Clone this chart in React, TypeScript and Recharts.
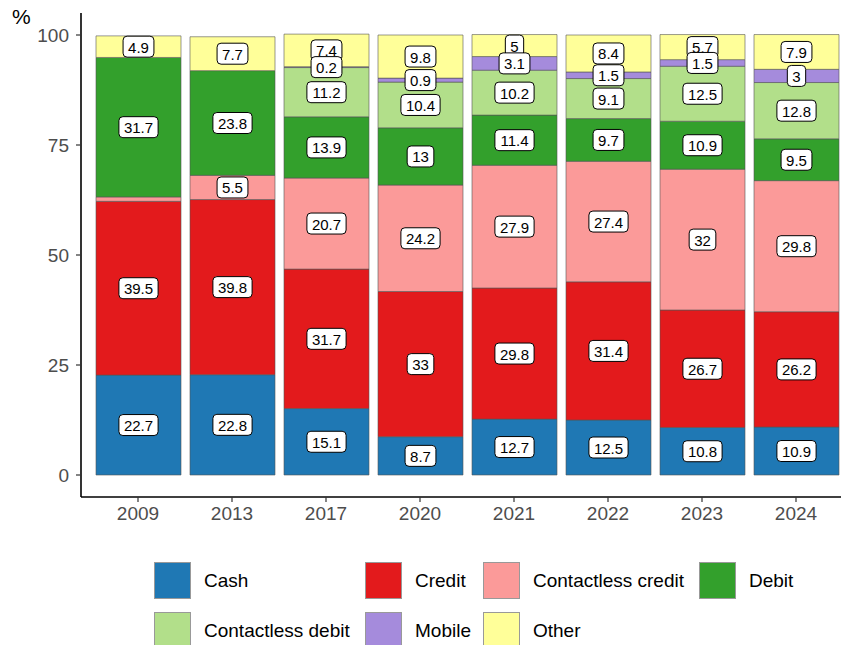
import { BarChart, Bar, XAxis, YAxis, LabelList } from "recharts";

const years = ["2009", "2013", "2017", "2020", "2021", "2022", "2023", "2024"];
const cash = [22.7, 22.8, 15.1, 8.7, 12.7, 12.5, 10.8, 10.9];
const credit = [39.5, 39.8, 31.7, 33, 29.8, 31.4, 26.7, 26.2];
const contactlessCredit = [1.0, 5.5, 20.7, 24.2, 27.9, 27.4, 32, 29.8];
const debit = [31.7, 23.8, 13.9, 13, 11.4, 9.7, 10.9, 9.5];
const contactlessDebit = [null, null, 11.2, 10.4, 10.2, 9.1, 12.5, 12.8];
const mobile = [null, null, 0.2, 0.9, 3.1, 1.5, 1.5, 3];
const other = [4.9, 7.7, 7.4, 9.8, 5, 8.4, 5.7, 7.9];
const yTicks = [0, 25, 50, 75, 100];

// the 2009 contactless credit sliver has no label in the original
const unlabelled = [{ year: "2009", key: "contactlessCredit" }];

const series = [
  { key: "cash", name: "Cash", values: cash, color: "#1F78B4" },
  { key: "credit", name: "Credit", values: credit, color: "#E31A1C" },
  { key: "contactlessCredit", name: "Contactless credit", values: contactlessCredit, color: "#FB9A99" },
  { key: "debit", name: "Debit", values: debit, color: "#33A02C" },
  { key: "contactlessDebit", name: "Contactless debit", values: contactlessDebit, color: "#B2DF8A" },
  { key: "mobile", name: "Mobile", values: mobile, color: "#A58BDC" },
  { key: "other", name: "Other", values: other, color: "#FFFF99" },
];

const data = years.map((year, i) => {
  const row: Record<string, any> = { year };
  series.forEach((s) => (row[s.key] = s.values[i]));
  return row;
});

const FONT = "'Liberation Sans', Arial, sans-serif";
const W = 853;
const H = 545;

const textWidth = (t: string, size: number) =>
  t.split("").reduce((acc, ch) => acc + (ch === "." ? 0.278 : 0.556), 0) * size;

const renderLabel = (props: any, key: string) => {
  const { x, y, width, height, value, index } = props;
  if (value == null || value === 0) return null;
  if (unlabelled.some((u) => u.key === key && u.year === years[index])) return null;
  const text = String(value);
  const w = textWidth(text, 15) + 10;
  const cx = Number(x) + Number(width) / 2;
  const cy = Number(y) + Number(height) / 2;
  return (
    <g>
      <rect x={cx - w / 2} y={cy - 10.5} width={w} height={21} rx={4} fill="#fff" stroke="#000" strokeWidth={1} />
      <text x={cx} y={cy + 0.5} textAnchor="middle" dominantBaseline="central" fontSize={15} fontFamily={FONT} fill="#000">
        {text}
      </text>
    </g>
  );
};

export default function App() {
  // labels: top series drawn first so lower labels sit on top where they overlap
  const labelOrder = [...series].reverse();
  return (
    <div style={{ position: "absolute", left: 0, top: 0, width: 841, height: 645, overflow: "hidden", background: "#fff", fontFamily: FONT }}>
      <div style={{ position: "absolute", left: 12, top: 5, fontSize: 21, lineHeight: "24px", color: "#000" }}>%</div>

      {/* bars and axes */}
      <div style={{ position: "absolute", left: 0, top: 0 }}>
        <BarChart width={W} height={H} data={data} margin={{ top: 13, right: 0, bottom: 8, left: 0 }} barSize={85}>
          <XAxis
            dataKey="year"
            padding={{ left: 10, right: 10 }}
            height={40}
            tickSize={5}
            tickMargin={5}
            tick={{ fill: "#4D4D4D", fontSize: 19, fontFamily: FONT }}
            axisLine={{ stroke: "#000", strokeWidth: 1.6 }}
            tickLine={{ stroke: "#333", strokeWidth: 1.2 }}
          />
          <YAxis
            type="number"
            domain={[-5, 105]}
            ticks={yTicks}
            width={81}
            tickSize={5}
            tickMargin={7}
            tick={{ fill: "#4D4D4D", fontSize: 19, fontFamily: FONT }}
            axisLine={{ stroke: "#000", strokeWidth: 1.6 }}
            tickLine={{ stroke: "#333", strokeWidth: 1.2 }}
          />
          {series.map((s) => (
            <Bar key={s.key} dataKey={s.key} name={s.name} stackId="a" fill={s.color} stroke="#555" strokeWidth={0.6} isAnimationActive={false} />
          ))}
        </BarChart>
      </div>

      {/* labels drawn on top of all bars */}
      <div style={{ position: "absolute", left: 0, top: 0 }}>
        <BarChart width={W} height={H} data={data} margin={{ top: 13, right: 0, bottom: 48, left: 81 }} barSize={85} reverseStackOrder>
          <XAxis dataKey="year" padding={{ left: 10, right: 10 }} hide />
          <YAxis type="number" domain={[-5, 105]} ticks={yTicks} hide />
          {labelOrder.map((s) => (
            <Bar key={s.key} dataKey={s.key} stackId="a" fill="none" stroke="none" isAnimationActive={false}>
              <LabelList dataKey={s.key} content={(p: any) => renderLabel(p, s.key)} />
            </Bar>
          ))}
        </BarChart>
      </div>

      {/* legend */}
      <div
        style={{
          position: "absolute",
          left: 154,
          top: 562,
          display: "grid",
          gridTemplateColumns: "211px 118px 216px auto",
          rowGap: 13,
        }}
      >
        {series.map((s) => (
          <div key={s.key} style={{ display: "flex", alignItems: "center", height: 37 }}>
            <div style={{ width: 37, height: 37, boxSizing: "border-box", background: s.color, border: "1px solid #999", marginRight: 13 }} />
            <span style={{ fontSize: 19, color: "#000", whiteSpace: "nowrap" }}>{s.name}</span>
          </div>
        ))}
      </div>
    </div>
  );
}
